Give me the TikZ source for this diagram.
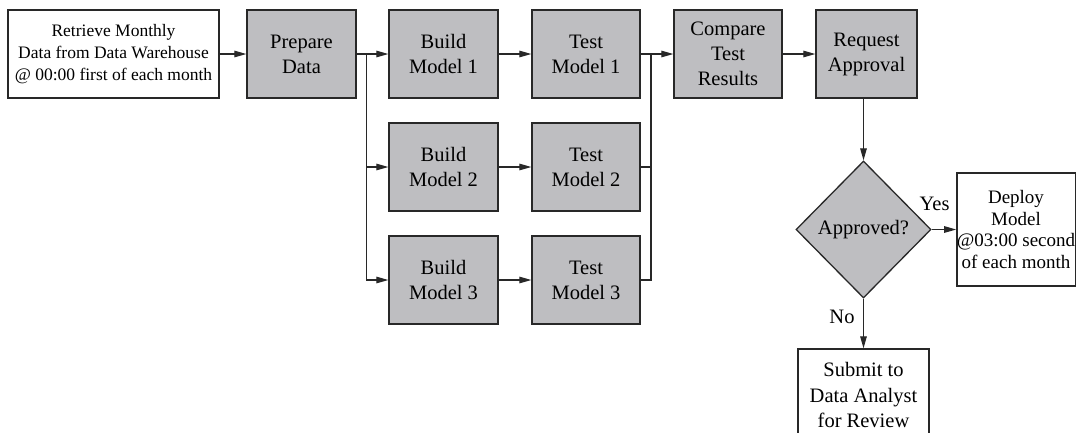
\documentclass[tikz,border=0pt]{standalone}
\usepackage{fontspec}
\setmainfont{Liberation Serif}
\usetikzlibrary{arrows.meta,shapes.geometric,calc}
\definecolor{boxgray}{RGB}{190,190,193}
\definecolor{edgec}{RGB}{40,40,40}
\begin{document}
\begin{tikzpicture}[x=1pt,y=-1pt,
  proc/.style={draw=edgec,line width=1.3pt,fill=boxgray,minimum width=109pt,minimum height=88pt,inner sep=0pt,align=center,font=\fontsize{20.5}{25}\selectfont},
  wbox/.style={draw=edgec,line width=1.3pt,fill=white,inner sep=0pt,align=center},
  dec/.style={diamond,draw=edgec,line width=1.3pt,fill=boxgray,minimum width=135pt,minimum height=137pt,inner sep=0pt,font=\fontsize{20.5}{25}\selectfont},
  conn/.style={draw=edgec,line width=1.2pt},
  arr/.style={conn,-{Triangle[length=12pt,width=6.5pt]}},
  lbl/.style={font=\fontsize{20.5}{25}\selectfont,inner sep=0pt,anchor=base}]
\clip (0,0) rectangle (1076,432);
\fill[white] (0,0) rectangle (1076,432);
\node[wbox,minimum width=211pt,minimum height=88pt,font=\fontsize{17.5}{22}\selectfont] (ret) at (113.5,54) {Retrieve Monthly\\Data from Data Warehouse\\@ 00:00 first of each month};
\node[proc] (prep) at (301.5,54) {Prepare\\Data};
\node[proc] (b1) at (443.5,54) {Build\\Model 1};
\node[proc] (b2) at (443.5,167) {Build\\Model 2};
\node[proc] (b3) at (443.5,280) {Build\\Model 3};
\node[proc,minimum width=108pt] (t1) at (586,54) {Test\\Model 1};
\node[proc,minimum width=108pt] (t2) at (586,167) {Test\\Model 2};
\node[proc,minimum width=108pt] (t3) at (586,280) {Test\\Model 3};
\node[proc,minimum width=108pt] (cmp) at (728,54) {Compare\\Test\\Results};
\node[proc,minimum width=101pt] (req) at (866.5,54) {Request\\Approval};
\node[dec] (dia) at (863.5,229.5) {Approved?};
\node[wbox,minimum width=118pt,minimum height=113pt,font=\fontsize{19}{21.5}\selectfont] (dep) at (1016,229.5) {Deploy\\Model\\@03:00 second\\of each month};
\node[wbox,minimum width=131pt,minimum height=92pt,font=\fontsize{20.5}{25.5}\selectfont] (sub) at (863.5,395) {\raisebox{2pt}{\parbox{131pt}{\centering Submit to\\Data Analyst\\for Review}}};
\coordinate (sL) at (366.5,54);
\coordinate (sR) at (651,54);
\draw[arr] (ret) -- (prep);
\draw[arr] (prep) -- (b1);
\draw[arr] (sL) |- (b2.west);
\draw[arr] (sL) |- (b3.west);
\draw[arr] (b1) -- (t1);
\draw[arr] (b2) -- (t2);
\draw[arr] (b3) -- (t3);
\draw[arr] (t1) -- (cmp);
\draw[conn] (t2.east) -| (sR);
\draw[conn] (t3.east) -| (sR);
\draw[arr] (cmp) -- (req);
\draw[arr] (req.south -| dia.north) -- (dia.north);
\draw[arr] (dia.east) -- node[lbl,pos=0.12,yshift=19.5pt] (yes) {Yes} (dep.west);
\draw[arr] (dia.south) -- node[lbl,pos=0.49,xshift=-21.5pt] (no) {No} (sub.north);
\end{tikzpicture}
\end{document}
